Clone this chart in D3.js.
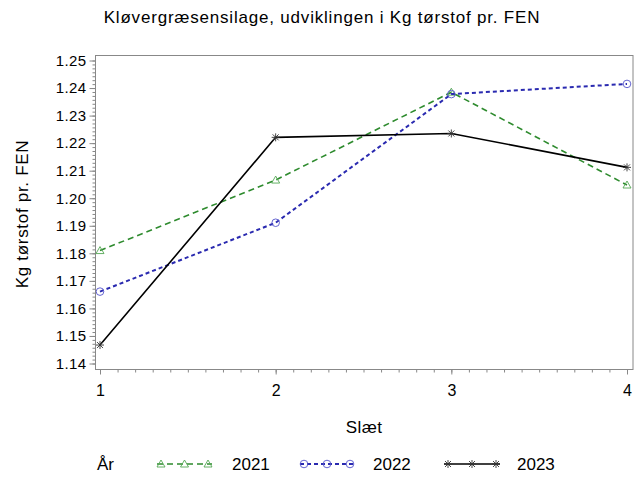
<!DOCTYPE html>
<html><head><meta charset="utf-8">
<script src="https://cdn.jsdelivr.net/npm/d3@7"></script>
<style>body{margin:0;background:#fff}svg{display:block}text{font-family:"Liberation Sans",Arial,sans-serif}</style>
</head><body><svg id="c" width="640" height="477"></svg>
<script>
const slaet = [1, 2, 3, 4];
const yTicks = [1.14,1.15,1.16,1.17,1.18,1.19,1.20,1.21,1.22,1.23,1.24,1.25];
const xTicks = [1, 2, 3, 4];
const y2021 = [1.181, 1.2066, 1.2385, 1.2048];
const y2022 = [1.1661, 1.1911, 1.2378, 1.2415];
const y2023 = [1.1467, 1.2221, 1.2235, 1.2112];
const seriesNames = ["2021", "2022", "2023"];

const svg = d3.select("#c");
const frame = {l: 95.5, r: 633, t: 55.5, b: 369.5};
const x = d3.scaleLinear().domain([1, 4]).range([100, 627]);
const y = d3.scaleLinear().domain([1.14, 1.25]).range([363.5, 60.5]);

svg.append("rect").attr("x", frame.l).attr("y", frame.t).attr("width", frame.r - frame.l).attr("height", frame.b - frame.t)
  .attr("fill", "none").attr("stroke", "#888").attr("stroke-width", 1);

// Y axis
const yAx = svg.append("g").attr("transform", `translate(${frame.l},0)`);
yAx.call(d3.axisLeft(y).tickValues(d3.range(0, 78).map(i => 1.14 + i * 0.01 / 7).filter(v => v <= 1.2501)).tickSize(3).tickFormat(""));
yAx.selectAll("line").attr("stroke", "#888");
yAx.selectAll(".domain").remove();
const yMaj = svg.append("g").attr("transform", `translate(${frame.l},0)`)
  .call(d3.axisLeft(y).tickValues(yTicks).tickSize(6).tickPadding(3).tickFormat(d3.format(".2f")));
yMaj.selectAll("line").attr("stroke", "#888");
yMaj.selectAll(".domain").remove();
yMaj.selectAll("text").attr("font-size", 15).attr("letter-spacing", 0.4).attr("fill", "#000").attr("font-family", '"Liberation Sans",Arial,sans-serif');

// X axis
const xAx = svg.append("g").attr("transform", `translate(0,${frame.b})`);
xAx.call(d3.axisBottom(x).tickValues(d3.range(1, 4.001, 0.1)).tickSize(3).tickFormat(""));
xAx.selectAll("line").attr("stroke", "#888");
xAx.selectAll(".domain").remove();
const xMaj = svg.append("g").attr("transform", `translate(0,${frame.b})`)
  .call(d3.axisBottom(x).tickValues(xTicks).tickSize(5).tickPadding(10).tickFormat(d3.format("d")));
xMaj.selectAll("line").attr("stroke", "#888");
xMaj.selectAll(".domain").remove();
xMaj.selectAll("text").attr("font-size", 16).attr("fill", "#000").attr("font-family", '"Liberation Sans",Arial,sans-serif');

// Titles
svg.append("text").attr("x", 322).attr("y", 23).attr("text-anchor", "middle").attr("font-size", 17).attr("letter-spacing", 0.8)
  .text("Kløvergræsensilage, udviklingen i Kg tørstof pr. FEN");
svg.append("text").attr("transform", "translate(28,214) rotate(-90)").attr("text-anchor", "middle").attr("font-size", 17).attr("letter-spacing", 0.7)
  .text("Kg tørstof pr. FEN");
svg.append("text").attr("x", 364).attr("y", 433).attr("text-anchor", "middle").attr("font-size", 17).attr("letter-spacing", 0.4).text("Slæt");

const series = [
  {name: seriesNames[0], vals: y2021, color: "#2e8b2e", mcolor: "#55a855", dash: "6,4", width: 1.6, marker: "tri"},
  {name: seriesNames[1], vals: y2022, color: "#2a2ab0", mcolor: "#5555cc", dash: "4,3", width: 2, marker: "circ"},
  {name: seriesNames[2], vals: y2023, color: "#000", mcolor: "#333", dash: null, width: 1.6, marker: "star"}
];

function drawMarker(g, type, cx, cy, color) {
  if (type === "tri") {
    g.append("path").attr("d", `M${cx},${cy-4}L${cx+4},${cy+3}L${cx-4},${cy+3}Z`).attr("fill", "none").attr("stroke", color).attr("stroke-width", 0.9);
  } else if (type === "circ") {
    g.append("circle").attr("cx", cx).attr("cy", cy).attr("r", 3.8).attr("fill", "none").attr("stroke", color).attr("stroke-width", 0.9);
  } else {
    const p = `M${cx-4},${cy}L${cx+4},${cy}M${cx},${cy-4}L${cx},${cy+4}M${cx-3},${cy-3}L${cx+3},${cy+3}M${cx-3},${cy+3}L${cx+3},${cy-3}`;
    g.append("path").attr("d", p).attr("stroke", color).attr("stroke-width", 0.9);
  }
}

const line = d3.line().x((d, i) => x(slaet[i])).y(d => y(d));
series.forEach(s => {
  svg.append("path").datum(s.vals).attr("d", line).attr("fill", "none").attr("stroke", s.color)
    .attr("stroke-width", s.width).attr("stroke-dasharray", s.dash);
  const g = svg.append("g");
  s.vals.forEach((v, i) => drawMarker(g, s.marker, x(slaet[i]), y(v), s.mcolor));
});

// Legend
const ly = 464;
svg.append("text").attr("x", 97).attr("y", ly + 6).attr("font-size", 17).text("År");
const legPos = [{x1: 157, x2: 212, tx: 232}, {x1: 300, x2: 354, tx: 373}, {x1: 444, x2: 500, tx: 517}];
series.forEach((s, i) => {
  const p = legPos[i];
  svg.append("line").attr("x1", p.x1).attr("x2", p.x2).attr("y1", ly).attr("y2", ly).attr("stroke", s.color)
    .attr("stroke-width", s.width).attr("stroke-dasharray", s.dash);
  const g = svg.append("g");
  [p.x1 + 4, (p.x1 + p.x2) / 2, p.x2 - 4].forEach(mx => drawMarker(g, s.marker, mx, ly, s.mcolor));
  svg.append("text").attr("x", p.tx).attr("y", ly + 6).attr("font-size", 17).text(s.name);
});
</script></body></html>
